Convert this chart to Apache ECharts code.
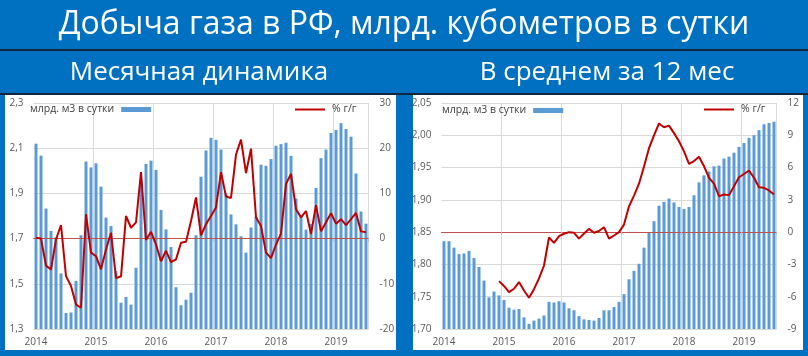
<!DOCTYPE html>
<html><head><meta charset="utf-8">
<script src="https://cdn.jsdelivr.net/npm/echarts@6/dist/echarts.min.js"></script>
<style>html,body{margin:0;padding:0;background:#0070C0;}#c{width:808px;height:356px;}</style>
</head><body><div id="c"></div>
<script>
// ---- data ----
const years = ['2014', '2015', '2016', '2017', '2018', '2019'];
const monthCount = 67; // Jan 2014 .. Jul 2019

// Monthly gas production, bcm per day
const monthlyGas = [
  2.120, 2.067, 1.833, 1.734, 1.705, 1.546, 1.371, 1.373, 1.513, 1.715, 2.041, 2.015,
  2.033, 1.930, 1.793, 1.756, 1.556, 1.416, 1.442, 1.408, 1.571, 1.960, 2.030, 2.045,
  2.004, 1.827, 1.741, 1.663, 1.485, 1.405, 1.430, 1.460, 1.715, 1.974, 2.090, 2.146,
  2.137, 2.094, 1.900, 1.807, 1.763, 1.710, 1.638, 1.749, 1.796, 2.027, 2.022, 2.052,
  2.111, 2.118, 2.124, 2.066, 1.878, 1.795, 1.740, 1.765, 1.924, 2.056, 2.094, 2.167,
  2.181, 2.211, 2.185, 2.151, 1.988, 1.820, 1.766
];
// Monthly y/y change, %
const monthlyYoY = [
  0.2, 0.0, -6.0, -6.8, -0.2, 3.0, -8.3, -10.5, -14.6, -15.3, 5.4, -3.1,
  -3.9, -6.8, -2.4, 1.3, -8.7, -8.4, 5.0, 2.4, 3.6, 14.7, -0.3, 1.5,
  -1.3, -5.0, -2.7, -5.2, -4.6, -0.9, -0.7, 3.9, 9.1, 0.7, 3.2, 5.0,
  6.9, 14.7, 9.3, 9.0, 18.6, 21.9, 14.5, 19.9, 4.7, 2.8, -3.1, -4.3,
  -1.3, 1.1, 12.1, 14.3, 6.5, 4.7, 6.1, 1.0, 7.4, 1.6, 3.6, 5.6,
  3.3, 4.3, 3.0, 4.3, 5.7, 1.6, 1.4
];
// 12-month average production, bcm per day
const avgGas = [
  1.836, 1.836, 1.826, 1.816, 1.817, 1.821, 1.810, 1.796, 1.775, 1.749, 1.758, 1.752,
  1.745, 1.733, 1.730, 1.731, 1.718, 1.708, 1.713, 1.716, 1.721, 1.742, 1.741, 1.743,
  1.741, 1.732, 1.729, 1.720, 1.715, 1.714, 1.713, 1.717, 1.729, 1.729, 1.734, 1.742,
  1.754, 1.777, 1.790, 1.801, 1.826, 1.850, 1.867, 1.891, 1.897, 1.902, 1.896, 1.889,
  1.886, 1.889, 1.907, 1.927, 1.938, 1.944, 1.952, 1.953, 1.964, 1.967, 1.973, 1.982,
  1.988, 1.996, 2.000, 2.008, 2.017, 2.019, 2.021
];
// 12-month average y/y change, %
const avgYoY = [
  null, null, null, null, null, null, null, null, null, null, null, -4.55,
  -5.0, -5.57, -5.26, -4.64, -5.42, -6.1, -5.3, -4.3, -3.1, -0.5, -1.0, -0.37,
  -0.15, 0.0, -0.06, -0.6, -0.12, 0.3, -0.06, 0.1, 0.46, -0.6, -0.31, 0.0,
  0.7, 2.4, 3.4, 4.5, 6.1, 7.8, 9.0, 10.1, 9.75, 9.9, 9.2, 8.45,
  7.5, 6.35, 6.6, 7.0, 6.13, 5.05, 4.5, 3.34, 3.5, 3.44, 4.27, 5.1,
  5.4, 5.73, 5.05, 4.18, 4.12, 3.87, 3.5
];

const titleText = 'Добыча газа в РФ, млрд. кубометров в сутки';
const subLeft = 'Месячная динамика';
const subRight = 'В среднем за 12 мес';
const barName = 'млрд. м3 в сутки';
const lineName = '% г/г';

// category labels
const months = [];
years.forEach(y => { for (let m = 1; m <= 12; m++) months.push(y + '-' + (m < 10 ? '0' : '') + m); });
const categories = months.slice(0, monthCount);

// ---- styles ----
const FONT = '"Open Sans", sans-serif';
const BAR = '#5B9BD5', RED = '#C00000', GRIDC = '#D9D9D9', LBL = '#595959';
const yearStart = i => i % 12 === 0;
const yearBoundary = i => i % 12 === 0 && i > 0;
const comma = d => v => v.toFixed(d).replace('.', ',');

function mainX(gridIndex) {
  return {
    type: 'category', gridIndex, data: categories, position: 'bottom', boundaryGap: true,
    axisLine: { show: false, onZero: false },
    axisTick: { show: false },
    axisLabel: { interval: yearStart, formatter: v => v.slice(0, 4), color: LBL, fontSize: 10, fontFamily: FONT, margin: 8 },
    splitLine: { show: true, interval: yearBoundary, lineStyle: { color: GRIDC, width: 1 } }
  };
}
function zeroX(gridIndex, yIdx) {
  return {
    type: 'category', gridIndex, data: categories, position: 'bottom', boundaryGap: true, z: 3,
    axisLine: { show: true, onZero: true, onZeroAxisIndex: yIdx, lineStyle: { color: '#C0504D', width: 1 } },
    axisTick: { show: true, interval: yearBoundary, length: 3, lineStyle: { color: '#BFBFBF' } },
    axisLabel: { show: false }, splitLine: { show: false }
  };
}
function valY(gridIndex, pos, min, max, interval, fmt, split) {
  return {
    type: 'value', gridIndex, position: pos, min, max, interval,
    axisLine: { show: false }, axisTick: { show: false },
    axisLabel: { formatter: fmt, color: LBL, fontSize: 10, fontFamily: FONT, margin: pos === 'left' ? 10 : 11 },
    splitLine: { show: split, lineStyle: { color: GRIDC, width: 1 } }
  };
}
function legend(name, left, top, align, isBar) {
  return {
    data: [name], left, top, align, itemGap: 0, padding: 0,
    itemWidth: 30, itemHeight: isBar ? 5 : 2, icon: 'rect',
    textStyle: { fontSize: 10.5, color: '#404040', fontFamily: FONT, padding: [0, 2, 0, 2] },
    selectedMode: false
  };
}

const option = {
  animation: false,
  backgroundColor: '#0070C0',
  textStyle: { fontFamily: FONT },
  graphic: [
    { type: 'rect', z: -10, silent: true, shape: { x: 0, y: 49, width: 808, height: 2 }, style: { fill: '#13253F' } },
    { type: 'rect', z: -10, silent: true, shape: { x: 0, y: 93, width: 808, height: 2 }, style: { fill: '#13253F' } },
    { type: 'rect', z: -10, silent: true, shape: { x: 5, y: 95, width: 391, height: 255 }, style: { fill: '#FFFFFF' } },
    { type: 'rect', z: -10, silent: true, shape: { x: 413, y: 95, width: 390, height: 255 }, style: { fill: '#FFFFFF' } },
    { type: 'text', silent: true, x: 404, y: 25, style: { text: titleText, fill: '#FFFFFF', font: '32px "Open Sans"', align: 'center', verticalAlign: 'middle', textAlign: 'center', textVerticalAlign: 'middle' } },
    { type: 'text', silent: true, x: 199, y: 73, style: { text: subLeft, fill: '#FFFFFF', font: '26px "Open Sans"', align: 'center', verticalAlign: 'middle', textAlign: 'center', textVerticalAlign: 'middle' } },
    { type: 'text', silent: true, x: 607, y: 73, style: { text: subRight, fill: '#FFFFFF', font: '26px "Open Sans"', align: 'center', verticalAlign: 'middle', textAlign: 'center', textVerticalAlign: 'middle' } }
  ],
  grid: [
    { left: 33.5, top: 103, width: 335, height: 226 },
    { left: 441.5, top: 103, width: 335, height: 226 }
  ],
  legend: [
    legend(barName, 30, 104, 'right', true),
    legend(lineName, 295, 104, 'left', false),
    legend(barName, 442, 105, 'right', true),
    legend(lineName, 704, 104, 'left', false)
  ],
  xAxis: [mainX(0), zeroX(0, 1), mainX(1), zeroX(1, 3)],
  yAxis: [
    valY(0, 'left', 1.3, 2.3, 0.2, comma(1), true),
    valY(0, 'right', -20, 30, 10, v => String(v), false),
    valY(1, 'left', 1.70, 2.05, 0.05, comma(2), true),
    valY(1, 'right', -9, 12, 3, v => String(v), false)
  ],
  series: [
    { name: barName, type: 'bar', xAxisIndex: 0, yAxisIndex: 0, data: monthlyGas, barWidth: 3, itemStyle: { color: BAR }, z: 2 },
    { name: lineName, type: 'line', xAxisIndex: 0, yAxisIndex: 1, data: monthlyYoY, symbol: 'none', lineStyle: { color: RED, width: 2 }, itemStyle: { color: RED }, z: 5 },
    { name: barName, type: 'bar', xAxisIndex: 2, yAxisIndex: 2, data: avgGas, barWidth: 3, itemStyle: { color: BAR }, z: 2 },
    { name: lineName, type: 'line', xAxisIndex: 2, yAxisIndex: 3, data: avgYoY, symbol: 'none', connectNulls: false, lineStyle: { color: RED, width: 2 }, itemStyle: { color: RED }, z: 5 }
  ]
};
const chart = echarts.init(document.getElementById('c'), null, { renderer: 'canvas' });
chart.setOption(option);
</script></body></html>
